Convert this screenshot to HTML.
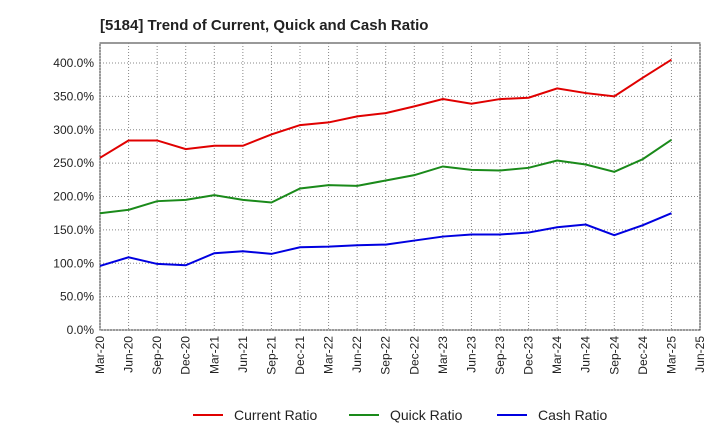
<!DOCTYPE html>
<html><head><meta charset="utf-8"><style>
body{margin:0;background:#fff;font-family:"Liberation Sans",sans-serif}
</style></head><body>
<svg width="720" height="440" xmlns="http://www.w3.org/2000/svg">
<text x="100" y="30" font-size="15" font-weight="bold" fill="#222">[5184]  Trend of Current, Quick and Cash Ratio</text>
<g id="grid"></g><g id="axes"></g><g id="series"></g><g id="legend"></g>
</svg>
<script>
const xLabels=["Mar-20","Jun-20","Sep-20","Dec-20","Mar-21","Jun-21","Sep-21","Dec-21","Mar-22","Jun-22","Sep-22","Dec-22","Mar-23","Jun-23","Sep-23","Dec-23","Mar-24","Jun-24","Sep-24","Dec-24","Mar-25","Jun-25"];
const yTicks=[0,50,100,150,200,250,300,350,400];
const currentRatio=[258,284,284,271,276,276,293,307,311,320,325,335,346,339,346,348,362,355,350,378,405];
const quickRatio=[175,180,193,195,202,195,191,212,217,216,224,232,245,240,239,243,254,248,237,256,285];
const cashRatio=[96,109,99,97,115,118,114,124,125,127,128,134,140,143,143,146,154,158,142,157,175];
const NS="http://www.w3.org/2000/svg";
const L=100,R=700,T=43,B=330,YMAX=430;
const xs=i=>L+(R-L)*i/(xLabels.length-1);
const ys=v=>B-(B-T)*v/YMAX;
function mk(parent,tag,attrs){const e=document.createElementNS(NS,tag);for(const k in attrs)e.setAttribute(k,attrs[k]);document.getElementById(parent).appendChild(e);return e;}
mk('grid','rect',{x:L,y:T,width:R-L,height:B-T,fill:'none',stroke:'#333'});
yTicks.forEach(v=>{
  const g=mk('grid','line',{x1:L,x2:R,y1:ys(v),y2:ys(v),stroke:'#888','stroke-dasharray':'1,2'});
  
  
  const t=mk('axes','text',{x:L-6,y:ys(v)+4,'text-anchor':'end','font-size':12,fill:'#222'});
  
  
  t.textContent=v.toFixed(1)+'%';
});
xLabels.forEach((lab,i)=>{
  const g=mk('grid','line',{x1:xs(i),x2:xs(i),y1:T,y2:B,stroke:'#888','stroke-dasharray':'1,2'});
  
  
  const x=xs(i),y=B+6;
  const t=mk('axes','text',{x:x,y:y,'text-anchor':'end','font-size':12,fill:'#222',transform:`rotate(-90 ${x} ${y}) translate(0 4)`});
  
  
  t.textContent=lab;
});
const series=[["Current Ratio",currentRatio,"#e00000"],["Quick Ratio",quickRatio,"#1a8a1a"],["Cash Ratio",cashRatio,"#0000e0"]];
series.forEach(([name,vals,col],k)=>{
  const p=mk('series','polyline',{points:vals.map((v,i)=>xs(i)+','+ys(v)).join(' '),fill:'none',stroke:col,'stroke-width':2});
  
  
  const lx=[193,349,497][k];
  const l=mk('legend','line',{x1:lx,x2:lx+30,y1:415,y2:415,stroke:col,'stroke-width':2});
  
  
  const t=mk('legend','text',{x:lx+41,y:420,'font-size':14,fill:'#222'});
  
  
  t.textContent=name;
});
</script>
</body></html>
